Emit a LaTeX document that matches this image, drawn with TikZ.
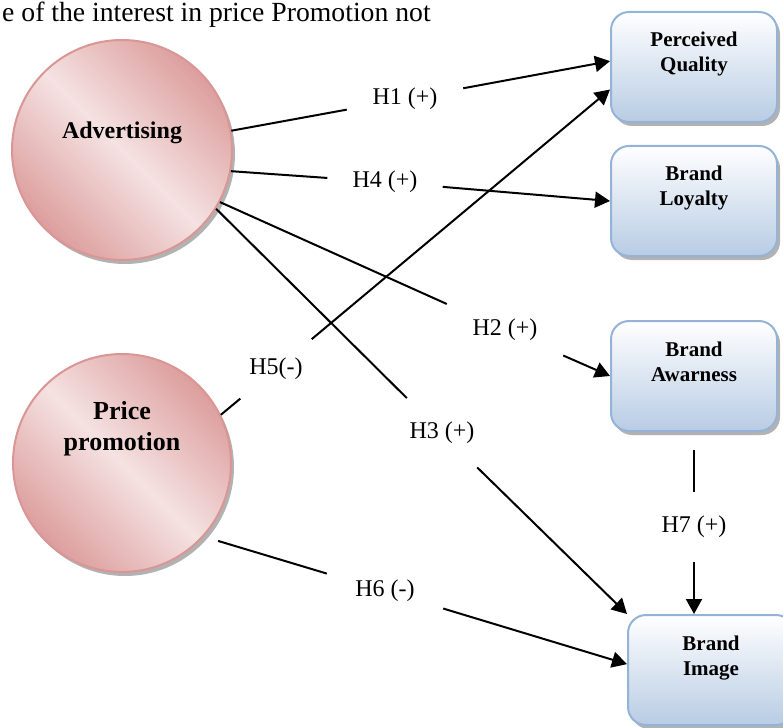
\documentclass[tikz,border=0pt]{standalone}
\usepackage{fontspec}
\setmainfont{Liberation Serif}
\usetikzlibrary{arrows.meta,shadows}
\definecolor{pinkedge}{RGB}{217,150,148}
\definecolor{pinkdark}{RGB}{220,158,157}
\definecolor{pinklight}{RGB}{245,226,226}
\definecolor{blueedge}{RGB}{149,179,215}
\definecolor{bluelow}{RGB}{184,204,228}
\newcommand{\boxtext}[1]{\parbox[c][110pt][t]{166pt}{\centering\bfseries\fontsize{21}{25}\selectfont\rule{0pt}{35pt}#1}}
\begin{document}
\begin{tikzpicture}[x=1pt,y=-1pt,
    every node/.style={inner sep=0pt},
    factor/.style={circle,draw=pinkedge,line width=2pt,minimum size=220pt,
        left color=pinkdark,right color=pinkdark,middle color=pinklight,shading angle=-45,
        drop shadow={shadow xshift=3pt,shadow yshift=-4pt,fill=gray!60,opacity=1}},
    brand/.style={rounded corners=18pt,draw=blueedge,line width=2pt,
        top color=white,bottom color=bluelow,
        drop shadow={shadow xshift=3pt,shadow yshift=-4pt,fill=gray!60,opacity=1}},
    hyp/.style={font=\fontsize{24}{28}\selectfont},
    link/.style={line width=2pt},
    arr/.style={link,-{Triangle[length=15pt,width=16pt]}}]
    \useasboundingbox (0,0) rectangle (783,727);
    \clip (0,0) rectangle (783,727);
    \node[anchor=base west,font=\fontsize{27.7}{32}\selectfont] (intro) at (2,22) {e of the interest in price Promotion not};
    \node[factor,label={[font=\bfseries\fontsize{24}{29}\selectfont,yshift=17pt]center:Advertising}] (adv) at (122,150) {};
    \node[factor,minimum size=218pt,label={[align=center,font=\bfseries\fontsize{26}{31}\selectfont,yshift=34pt]center:Price\\promotion}] (pp) at (122,463) {};
    \node[brand] (pq) at (694,67) {\boxtext{Perceived\\Quality}};
    \node[brand] (bl) at (694,201) {\boxtext{Brand\\Loyalty}};
    \node[brand] (ba) at (694,376) {\boxtext{Brand\\Awarness}};
    \node[brand] (bi) at (711,670) {\boxtext{Brand\\Image}};
    \foreach \n/\x/\y/\w/\h/\t in {h1/405/99/116/30/H1 (+),h4/385/182/115/30/H4 (+),h2/505/330/116/60/H2 (+),h3/442/433/70/80/H3 (+),h5/276/369/71/66/H5(-),h6/385/591/116/40/H6 (-),h7/694/527/70/69/H7 (+)}
        \node[hyp,minimum width=\w pt,minimum height=\h pt] (\n) at (\x,\y) {\t};
    \foreach \a/\h/\b in {adv.10/h1/pq.176,adv.-11/h4/bl.west,adv.-28/h2/ba.west,adv.-32/h3/bi.north west,pp.26/h5/pq.195}
        {\draw[link] (\a) -- (\h); \draw[arr] (\h) -- (\b);}
    \draw[link,shorten <=15pt] (pp.-42) -- (h6);
    \draw[arr] (h6) -- (bi.176);
    \draw[link,shorten <=18pt] (ba.south) -- (h7);
    \draw[arr] (h7) -- (bi.north -| ba.south);
\end{tikzpicture}
\end{document}
